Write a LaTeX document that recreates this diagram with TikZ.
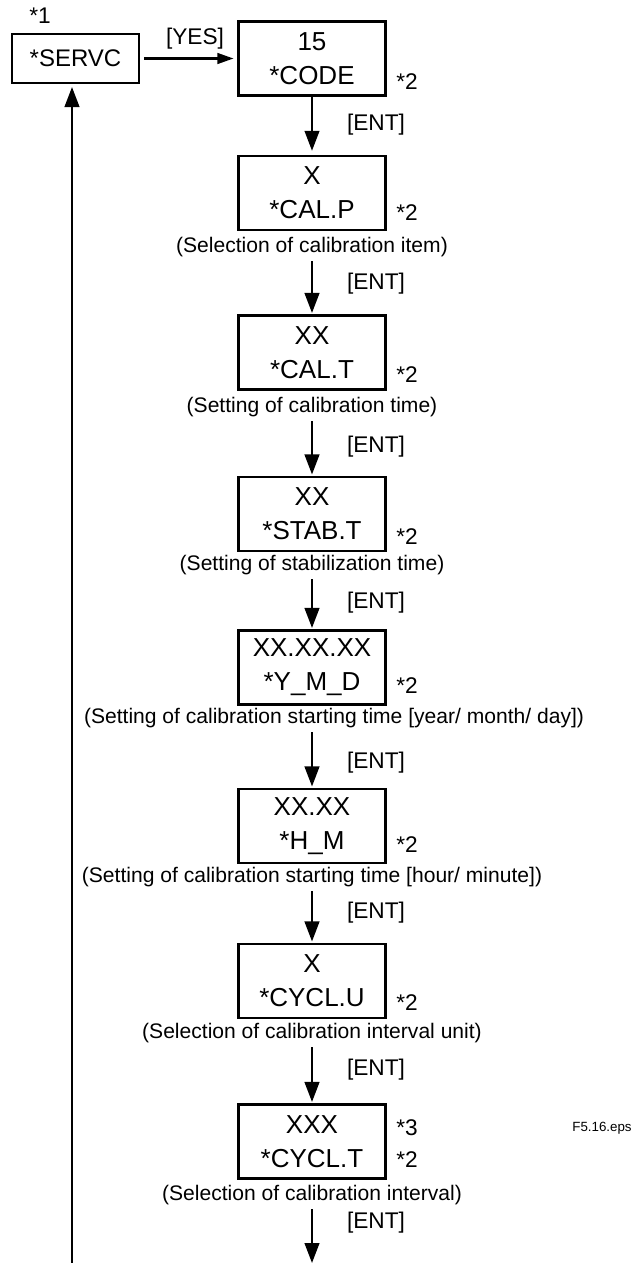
\documentclass[tikz,border=0pt]{standalone}
\usepackage{fontspec}
\setmainfont{Liberation Sans}
\usepackage{tikz}
\usetikzlibrary{arrows.meta, positioning, calc}

\begin{document}
\begin{tikzpicture}[x=0.75pt, y=-0.75pt,
    dispbox/.style={draw, line width=1.8pt, minimum width=110pt, minimum height=55.5pt, inner sep=0pt, align=center, font=\fontsize{19.5}{25.5}\selectfont},
    servbox/.style={draw, line width=1.8pt, minimum width=95pt, minimum height=37pt, inner sep=0pt, font=\fontsize{18}{22}\selectfont},
    keylbl/.style={inner sep=0pt, font=\fontsize{17}{20}\selectfont},
    capt/.style={inner sep=0pt, font=\fontsize{15.8}{19}\selectfont},
    flow/.style={line width=1.6pt, -{Triangle[length=15pt, width=11pt]}},
    yesflow/.style={line width=1.6pt, -{Triangle[length=12pt, width=8pt]}}]
    \useasboundingbox (0,0) rectangle (634,1263);

    % service entry
    \node[servbox] (servc) at (75.5,58.5) {*SERVC};
    \node[keylbl] (n1) at (40,16) {*1};
    \node[keylbl] (yes) at (195,39) {[YES]};

    % display boxes
    \node[dispbox] (code) at (312,58.5) {15\\*CODE};
    \node[keylbl] (code2) at (407,82) {*2};

    \node[dispbox] (calp) at (312,193) {X\\*CAL.P};
    \node[keylbl] (calp2) at (407,213) {*2};
    \node[capt] (calpcap) at (312,247) {(Selection of calibration item)};

    \node[dispbox] (calt) at (312,352.5) {XX\\*CAL.T};
    \node[keylbl] (calt2) at (407,375) {*2};
    \node[capt] (caltcap) at (312,407) {(Setting of calibration time)};

    \node[dispbox] (stabt) at (312,514) {XX\\*STAB.T};
    \node[keylbl] (stabt2) at (407,537) {*2};
    \node[capt] (stabtcap) at (312,565) {(Setting of stabilization time)};

    \node[dispbox] (ymd) at (312,667.5) {XX.XX.XX\\*Y\_M\_D};
    \node[keylbl] (ymd2) at (407,686) {*2};
    \node[capt] (ymdcap) at (334,718) {(Setting of calibration starting time [year/ month/ day])};

    \node[dispbox] (hm) at (312,826) {XX.XX\\*H\_M};
    \node[keylbl] (hm2) at (407,845) {*2};
    \node[capt] (hmcap) at (312,877) {(Setting of calibration starting time [hour/ minute])};

    \node[dispbox] (cyclu) at (312,981) {X\\*CYCL.U};
    \node[keylbl] (cyclu2) at (407,1003) {*2};
    \node[capt] (cyclucap) at (312,1033) {(Selection of calibration interval unit)};

    \node[dispbox] (cyclt) at (312,1141.5) {XXX\\*CYCL.T};
    \node[keylbl] (cyclt3) at (407,1128) {*3};
    \node[keylbl] (cyclt2) at (407,1160) {*2};
    \node[capt] (cycltcap) at (312,1195) {(Selection of calibration interval)};

    \node[inner sep=0pt, font=\fontsize{10}{12}\selectfont] (fname) at (602,1128) {F5.16.eps};

    % [ENT] keys
    \node[keylbl] (ent1) at (376,125) {[ENT]};
    \node[keylbl] (ent2) at (376,284) {[ENT]};
    \node[keylbl] (ent3) at (376,447) {[ENT]};
    \node[keylbl] (ent4) at (376,603) {[ENT]};
    \node[keylbl] (ent5) at (376,763) {[ENT]};
    \node[keylbl] (ent6) at (376,913) {[ENT]};
    \node[keylbl] (ent7) at (376,1070) {[ENT]};
    \node[keylbl] (ent8) at (376,1223) {[ENT]};

    \coordinate (flowend) at (312,1263);
    \coordinate (loopstart) at (72,1263);

    % arrows
    \draw[yesflow, shorten <=3pt, shorten >=3pt] (servc) -- (code);
    \draw[flow, shorten >=3pt] (code) -- (calp);
    \draw[flow, shorten <=3pt, shorten >=1pt] (calp |- calpcap.south) -- (calt);
    \draw[flow, shorten <=3pt, shorten >=1pt] (calt |- caltcap.south) -- (stabt);
    \draw[flow, shorten <=3pt, shorten >=1pt] (stabt |- stabtcap.south) -- (ymd);
    \draw[flow, shorten <=3pt, shorten >=1pt] (ymd |- ymdcap.south) -- (hm);
    \draw[flow, shorten <=3pt, shorten >=1pt] (hm |- hmcap.south) -- (cyclu);
    \draw[flow, shorten <=3pt, shorten >=1pt] (cyclu |- cyclucap.south) -- (cyclt);
    \draw[flow, shorten <=3pt] (cyclt |- cycltcap.south) -- (flowend);
    \draw[flow, shorten >=2pt] (loopstart) -- (loopstart |- servc.south);
\end{tikzpicture}
\end{document}
